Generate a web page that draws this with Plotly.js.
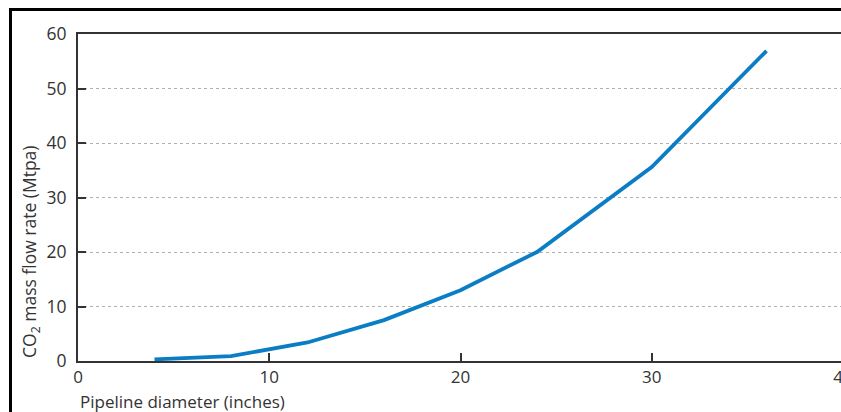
<!DOCTYPE html>
<html>
<head>
<meta charset="utf-8">
<script src="https://cdn.plot.ly/plotly-3.0.1.min.js"></script>
<style>
html,body{margin:0;padding:0;background:#fff;overflow:hidden;width:841px;height:412px;}
#chart{position:absolute;left:0;top:0;}
#frame{position:absolute;left:9px;top:8px;width:900px;height:420px;border-left:3px solid #000;border-top:3px solid #000;pointer-events:none;}
</style>
</head>
<body>
<div id="chart"></div>
<div id="frame"></div>
<script>
const diameterInches = [4, 8, 12, 16, 20, 24, 30, 36];
const flowRateMtpa = [0.3, 0.9, 3.4, 7.5, 13.0, 20.0, 35.6, 56.9];
const xTicks = [0, 10, 20, 30, 40];
const yTicks = [0, 10, 20, 30, 40, 50, 60];
const xTitle = 'Pipeline diameter (inches)';
const yTitle = 'CO<sub>2</sub> mass flow rate (Mtpa)';

const font = '"Open Sans", Lato, sans-serif';
const textColor = '#333';

const W = 900, H = 412;
const L = 78, R = W - 843, T = 34, B = H - 361;
const pw = W - L - R, ph = H - T - B;

Plotly.newPlot('chart', [{
  x: diameterInches,
  y: flowRateMtpa,
  type: 'scatter',
  mode: 'lines',
  line: {color: '#0b7dc4', width: 3.8},
  hoverinfo: 'skip'
}], {
  width: W, height: H,
  margin: {l: L, r: R, t: T, b: B, pad: 0},
  paper_bgcolor: '#fff', plot_bgcolor: '#fff',
  showlegend: false,
  font: {family: font, color: textColor, size: 17},
  xaxis: {
    range: [0, 40], tickvals: xTicks, ticktext: xTicks.map(String),
    showgrid: false, zeroline: false,
    showline: true, linecolor: '#333', linewidth: 2, mirror: true,
    ticks: 'inside', ticklen: 8, tickwidth: 2, tickcolor: '#333',
    ticklabelstandoff: 0,
    tickfont: {family: font, size: 17, color: textColor}
  },
  yaxis: {
    range: [0, 60], tickvals: yTicks, ticktext: yTicks.map(String),
    showgrid: true, gridcolor: '#b0b0b0', griddash: 'dot', gridwidth: 1,
    zeroline: false,
    showline: true, linecolor: '#333', linewidth: 2,
    ticks: 'inside', ticklen: 8, tickwidth: 2, tickcolor: '#333',
    ticklabelstandoff: 6,
    tickfont: {family: font, size: 17.5, color: textColor}
  },
  annotations: [
    {text: xTitle, xref: 'paper', yref: 'paper', x: 0, y: (361 - 401) / ph,
     xanchor: 'left', yanchor: 'middle', showarrow: false,
     font: {family: font, size: 17, color: textColor}},
    {text: yTitle, xref: 'paper', yref: 'paper', x: (30 - L) / pw, y: (361 - 252) / ph,
     xanchor: 'center', yanchor: 'middle', textangle: -90, showarrow: false,
     font: {family: font, size: 17.5, color: textColor}}
  ]
}, {staticPlot: true});
</script>
</body>
</html>
